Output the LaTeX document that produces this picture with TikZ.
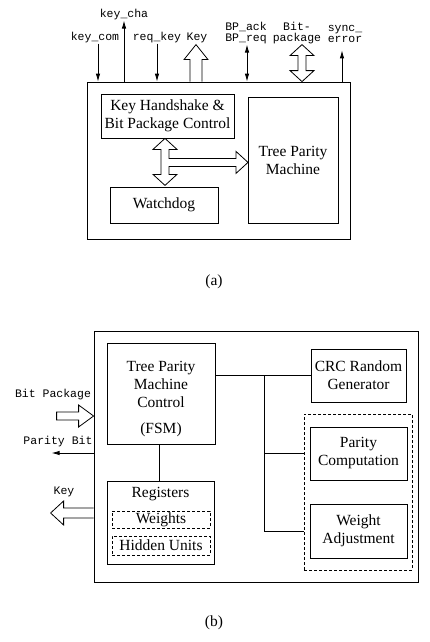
\documentclass[tikz,border=0pt]{standalone}
\usepackage{fontspec}
\setmainfont{Liberation Serif}
\setmonofont{Liberation Mono}
\usetikzlibrary{arrows.meta}

\newcommand{\boxfont}{\fontsize{15.5}{18}\selectfont}
\newcommand{\sigfont}{\fontsize{11.5}{11}\selectfont\ttfamily}

\begin{document}
\begin{tikzpicture}[x=1pt,y=-1pt,
    blk/.style={draw,line width=.8pt,align=center,font=\boxfont},
    grp/.style={draw,line width=.8pt,dash pattern=on 3pt off 2pt},
    sig/.style={font=\sigfont,align=center},
    wire/.style={line width=.8pt},
    arr/.style={line width=.8pt,>={Latex[length=8pt,width=4.5pt]},->},
    fat/.style={draw,line width=.8pt,line join=miter}]
    \tikzstyle{every node}+=[inner sep=0pt]
    \useasboundingbox (0,0) rectangle (430,642);

    % (a)
    \node [blk,minimum width=263,minimum height=157] (boxA) at (218.5,160.5) {};
    \node [blk,minimum width=133,minimum height=44] (khs) at (167.5,116) {Key Handshake \&\\Bit Package Control};
    \node [blk,minimum width=90,minimum height=126] (tpm) at (293,160) {Tree Parity\\Machine};
    \node [blk,minimum width=108,minimum height=36] (wd) at (164,205) {Watchdog};
    \node [sig] (kcom) at (95,38) {key\_com};
    \node [sig] (kcha) at (124,15) {key\_cha};
    \node [sig] (rkey) at (157,38) {req\_key};
    \node [sig] (keyA) at (197,38) {Key};
    \node [sig] (bp) at (246,33.5) {BP\_ack\\BP\_req};
    \node [sig] (bitp) at (297,33.5) {Bit-\\package};
    \node [sig,align=left] (sync) at (345,33.5) {sync\_\\error};
    \draw [arr] (kcom.south -| 98,0) -- (boxA.north -| 98,0);
    \draw [arr] (boxA.north -| 124,0) -- (kcha.south -| 124,0);
    \draw [arr] (rkey.south -| 157,0) -- (boxA.north -| 157,0);
    \draw [fat] (boxA.north -| 190,0) -- ++(0,-22) -- ++(-6,0) -- ++(12,-15) -- ++(12,15) -- ++(-6,0) -- (boxA.north -| 202,0);
    \draw [arr,<->] (bp.south -| 247,0) -- (boxA.north -| 247,0);
    \draw [fat] (boxA.north -| 302,0) -- ++(-12,-11) -- ++(8,0) -- ++(0,-15) -- ++(-8,0) -- ++(12,-11) -- ++(12,11) -- ++(-8,0) -- ++(0,15) -- ++(8,0) -- cycle;
    \draw [arr,shorten >=8pt] (boxA.north -| 342,0) -- (sync.south -| 342,0);
    \draw [fat] (khs.south -| 165,0) -- ++(12,11) -- ++(-8,0) -- ++(0,9) -- ++(67,0) -- ++(0,-7) -- ++(12,11) -- ++(-12,11) -- ++(0,-7) -- ++(-67,0) -- ++(0,8) -- ++(8,0) -- ++(-12,11) -- ++(-12,-11) -- ++(8,0) -- ++(0,-25) -- ++(-8,0) -- cycle;
    \node [font=\boxfont] (capA) at (214,282) {(a)};

    % (b)
    \node [blk,minimum width=324,minimum height=251] (boxB) at (256,456.5) {};
    \node [blk,minimum width=108,minimum height=101] (tpmc) at (161,393.5) {};
    \node [font=\boxfont,align=center] (tpmcT) at (161,399.5) {Tree Parity\\Machine\\Control\\[8pt](FSM)};
    \node [blk,minimum width=95,minimum height=53] (crc) at (358.5,375.5) {CRC Random\\Generator};
    \node [grp,minimum width=108,minimum height=156] (fu) at (358,492) {};
    \node [blk,minimum width=97,minimum height=53] (par) at (358.5,453.5) {Parity\\Computation};
    \node [blk,minimum width=97,minimum height=54] (wadj) at (358.5,531) {Weight\\Adjustment};
    \node [blk,minimum width=107,minimum height=83] (reg) at (160.5,522.5) {};
    \node [font=\boxfont] (regT) at (160.5,494) {Registers};
    \node [grp,font=\boxfont,minimum width=98,minimum height=17] (wts) at (161,519.5) {Weights};
    \node [grp,font=\boxfont,minimum width=98,minimum height=19] (hid) at (161,545.5) {Hidden Units};
    \coordinate (bus) at (264,375.5);
    \draw [wire] (tpmc.east |- crc.west) -- (crc.west);
    \draw [wire] (bus) |- (fu.west |- par.west);
    \draw [wire] (bus) |- (fu.west |- wadj.west);
    \draw [wire] (tpmc.south -| 159,0) -- (reg.north -| 159,0);
    \node [sig] (bpkg) at (53,395) {Bit Package};
    \node [sig] (pbit) at (58,442) {Parity Bit};
    \node [sig] (keyB) at (64,492) {Key};
    \draw [fat] (boxB.west |- 0,416) -- ++(-15,-11) -- ++(0,7) -- ++(-22,0) -- ++(0,8) -- ++(22,0) -- ++(0,7) -- cycle;
    \draw [arr] (boxB.west |- 0,453) -- ++(-42,0);
    \draw [fat] (boxB.west |- 0,508) -- ++(-30,0) -- ++(0,-7) -- ++(-13,12) -- ++(13,12) -- ++(0,-7) -- ++(30,0);
    \node [font=\boxfont] (capB) at (214,623) {(b)};
\end{tikzpicture}
\end{document}
